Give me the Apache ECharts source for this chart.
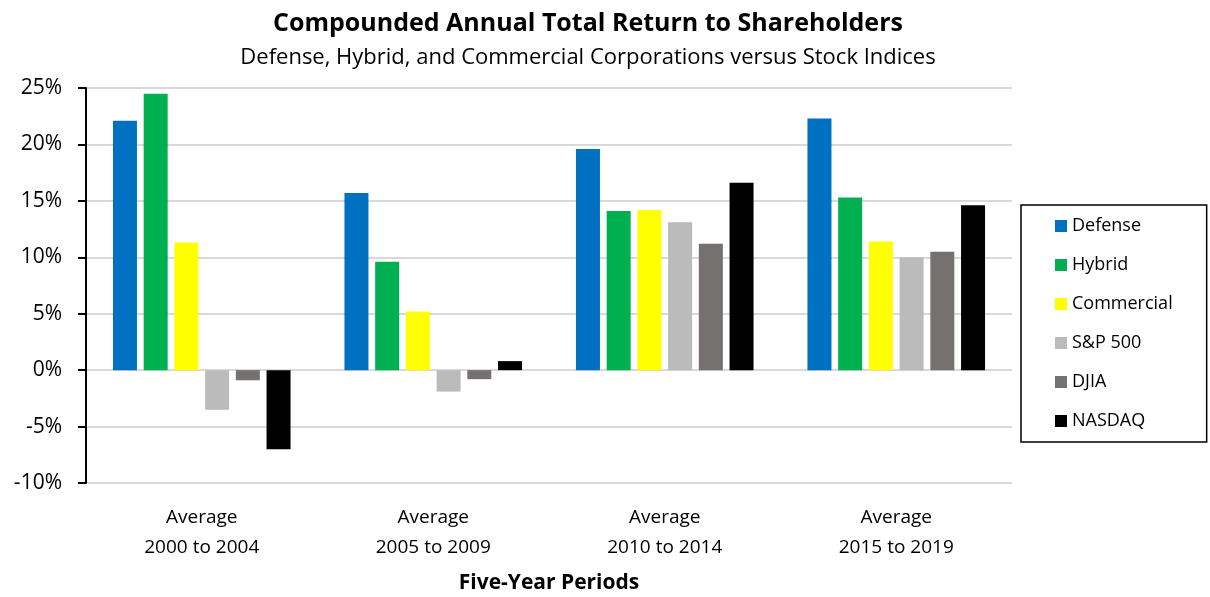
<!DOCTYPE html>
<html lang="en">
<head>
    <meta charset="UTF-8">
    <title>Compounded Annual Total Return</title>
    <style>
        html, body { margin: 0; padding: 0; background: #fff; }
    </style>
</head>
<body>
<div id="myChart" style="width: 1210px;height: 597px;"></div>
<script src="https://cdn.jsdelivr.net/npm/echarts@6/dist/echarts.min.js"></script>
<script>
    var myChart = echarts.init(document.querySelector("#myChart"));

    // five-year periods
    let periods = ["Average\n2000 to 2004", "Average\n2005 to 2009", "Average\n2010 to 2014", "Average\n2015 to 2019"];
    let seriesNames = ["Defense", "Hybrid", "Commercial", "S&P 500", "DJIA", "NASDAQ"];
    // compounded annual return, %
    let defense = [22.1, 15.7, 19.6, 22.3];
    let hybrid = [24.5, 9.6, 14.1, 15.3];
    let commercial = [11.3, 5.2, 14.2, 11.4];
    let sp500 = [-3.5, -1.9, 13.1, 10.0];
    let djia = [-0.9, -0.8, 11.2, 10.5];
    let nasdaq = [-7.0, 0.8, 16.6, 14.6];
    let yTicks = [-10, 25, 5]; // min, max, step

    let values = [defense, hybrid, commercial, sp500, djia, nasdaq];
    let colors = ["#0070C0", "#00B050", "#FFFF00", "#BBBBBB", "#767171", "#000000"];
    let font = "Open Sans";

    let option = {
        backgroundColor: "#fff",
        textStyle: { fontFamily: font },
        title: {
            text: "Compounded Annual Total Return to Shareholders",
            subtext: "Defense, Hybrid, and Commercial Corporations versus Stock Indices",
            left: 583,
            textAlign: "center",
            top: 6,
            itemGap: 11,
            textStyle: { fontFamily: font, fontSize: 25, fontWeight: "bold", color: "#000" },
            subtextStyle: { fontFamily: font, fontSize: 22, color: "#000" }
        },
        legend: {
            orient: "vertical",
            left: 1021,
            top: 205,
            padding: [12, 34, 12, 34],
            itemWidth: 12,
            itemHeight: 12,
            itemGap: 21,
            borderColor: "#000",
            borderWidth: 1.5,
            icon: "rect",
            textStyle: { fontFamily: font, fontSize: 18, color: "#000" },
            data: seriesNames
        },
        grid: {
            left: 86,
            right: 198,
            top: 88,
            bottom: 114,
            outerBoundsMode: "none"
        },
        xAxis: {
            type: "category",
            data: periods,
            name: "Five-Year Periods",
            nameLocation: "middle",
            nameGap: 90,
            nameTextStyle: { fontFamily: font, fontSize: 21, fontWeight: "bold", color: "#000" },
            axisLine: { show: false },
            axisTick: { show: false },
            axisLabel: { fontFamily: font, fontSize: 19, color: "#000", lineHeight: 30, margin: 20 }
        },
        yAxis: {
            type: "value",
            min: yTicks[0],
            max: yTicks[1],
            interval: yTicks[2],
            axisLine: { show: true, lineStyle: { color: "#000", width: 2 } },
            axisTick: { show: true, length: 8, lineStyle: { color: "#000", width: 2 } },
            axisLabel: { formatter: "{value}%", fontFamily: font, fontSize: 21, color: "#000", margin: 24 },
            splitLine: { lineStyle: { color: "#D9D9D9", width: 2 } }
        },
        series: seriesNames.map(function (name, i) {
            return {
                name: name,
                type: "bar",
                data: values[i],
                barWidth: 24,
                barGap: "28%",
                itemStyle: { color: colors[i] }
            };
        })
    };
    myChart.setOption(option);
</script>
</body>
</html>
